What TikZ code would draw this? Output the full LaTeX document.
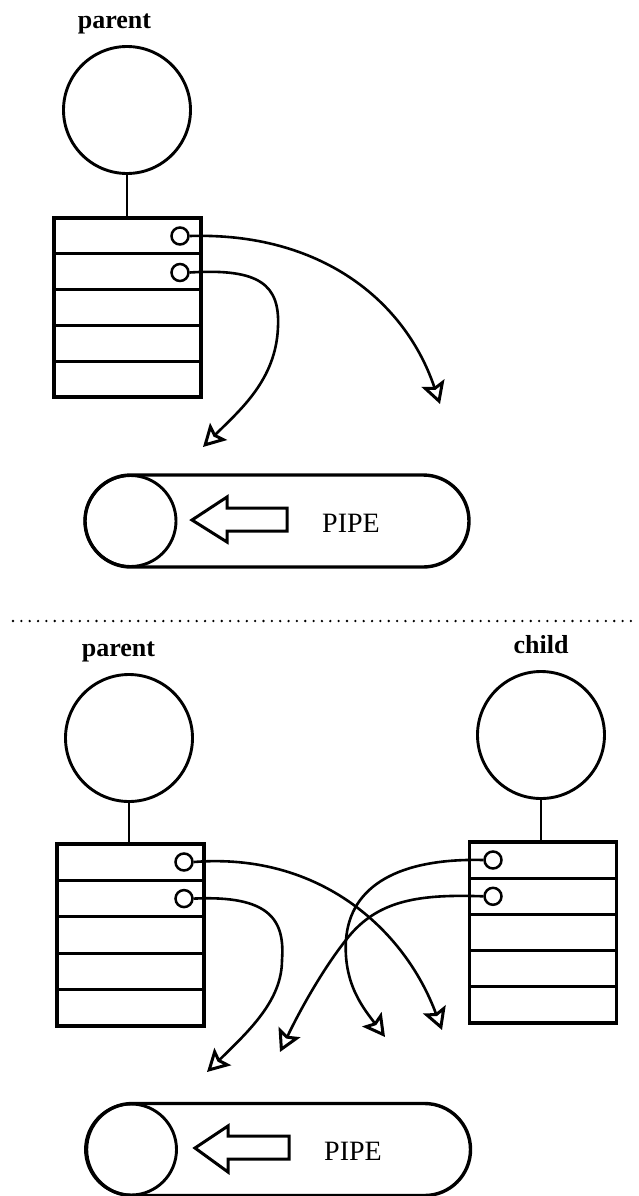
\documentclass[tikz,border=0pt]{standalone}
\usepackage{fontspec}
\setmainfont{Liberation Serif}
\usetikzlibrary{arrows.meta}

\begin{document}
\begin{tikzpicture}[x=1bp,y=-1bp,
  proc/.style={circle, draw, line width=2.9bp, minimum size=127bp, inner sep=0pt},
  slot/.style={rectangle, draw, line width=3.3bp, minimum width=147bp, minimum height=#1, inner sep=0pt},
  fdesc/.style={circle, draw, line width=2.5bp, minimum size=17bp, inner sep=0pt},
  link/.style={line width=2.2bp},
  ref/.style={line width=2.6bp, -{Stealth[open, length=22bp, width=24bp, inset=4bp, line width=3bp]}},
  lbl/.style={font=\fontsize{26bp}{30bp}\selectfont\bfseries, anchor=base, inner sep=0pt},
  pipebody/.style={rectangle, rounded corners=45.9bp, draw, line width=3.4bp, minimum width=384bp, minimum height=92bp, inner sep=0pt},
  pipeend/.style={circle, draw, line width=2.9bp, minimum size=91bp, inner sep=0pt},
  flow/.style={draw, line width=3bp, line join=miter},
  pipelbl/.style={font=\fontsize{28bp}{32bp}\selectfont, anchor=base, inner sep=0pt},
  divider/.style={line width=2.6bp, line cap=round, dash pattern=on 0bp off 8.35bp}
]
\useasboundingbox (0,0) rectangle (639,1196);

% ---------- before the fork ----------
\node[lbl] (plab) at (114.5,28) {parent};
\node[proc] (pc) at (127,110) {};
\foreach \i in {1,...,5}
  \node[slot=35.8bp] (pa\i) at (127.5,{218+35.8*(\i-0.5)}) {};
\draw[link] (pc.south) -- (pc.south |- pa1.north);
\node[fdesc] (pafd1) at (180,236) {};
\node[fdesc] (pafd2) at (180,272.5) {};

\coordinate (pe1) at (440,404);
\coordinate (pe2) at (203,447);
\draw[ref] (pafd1.east) .. controls (320,232) and (405,300) .. (pe1);
\draw[ref] (pafd2.east) .. controls (260,268) and (280,285) .. (278,327)
                      .. controls (276,380) and (240,410) .. (pe2);

% pipe
\node[pipebody] (pipeA) at (277,521) {};
\node[pipeend] (pipeAend) at (130.5,521) {};
\path[flow] (287,508) -- (227,508) -- (227,497) -- (192,520) -- (227,542) -- (227,531) -- (287,531) -- cycle;
\node[pipelbl] (pipeAlbl) at (351,532) {PIPE};

% ---------- separator ----------
\coordinate (dl) at (13,621);
\coordinate (dr) at (639,621);
\draw[divider] (dl) -- (dr);

% ---------- after the fork ----------
\node[lbl] (qlab) at (118.5,656) {parent};
\node[lbl] (clab) at (541,653) {child};

\node[proc] (qc) at (129,738) {};
\foreach \i in {1,...,5}
  \node[slot=36.4bp] (qa\i) at (130.5,{844+36.4*(\i-0.5)}) {};
\draw[link] (qc.south) -- (qc.south |- qa1.north);
\node[fdesc] (qafd1) at (184,862) {};
\node[fdesc] (qafd2) at (184,898.6) {};

\node[proc] (cc) at (541,735) {};
\foreach \i in {1,...,5}
  \node[slot=36.2bp] (ca\i) at (543,{842+36.2*(\i-0.5)}) {};
\draw[link] (cc.south) -- (cc.south |- ca1.north);
\node[fdesc] (cafd1) at (493,860) {};
\node[fdesc] (cafd2) at (493,896.3) {};

\coordinate (qe1) at (442,1030);
\coordinate (qe2) at (207,1072);
\coordinate (ce1) at (385,1037);
\coordinate (ce2) at (280,1052);

\draw[ref] (qafd1.east) .. controls (320,852) and (405,930) .. (qe1);
\draw[ref] (qafd2.east) .. controls (270,895) and (285,920) .. (282,960)
                        .. controls (282,1000) and (250,1030) .. (qe2);
\draw[ref] (cafd1.west) .. controls (400,858) and (350,885) .. (346,940)
                        .. controls (343,985) and (365,1010) .. (ce1);
\draw[ref] (cafd2.west) .. controls (420,894) and (380,900) .. (350,935)
                        .. controls (325,965) and (300,1010) .. (ce2);

% pipe
\node[pipebody] (pipeB) at (278.5,1149.5) {};
\node[pipeend] (pipeBend) at (131,1149.5) {};
\path[flow] (289,1136) -- (228,1136) -- (228,1126) -- (195,1148) -- (228,1172) -- (228,1159) -- (289,1159) -- cycle;
\node[pipelbl] (pipeBlbl) at (353,1160) {PIPE};
\end{tikzpicture}
\end{document}
